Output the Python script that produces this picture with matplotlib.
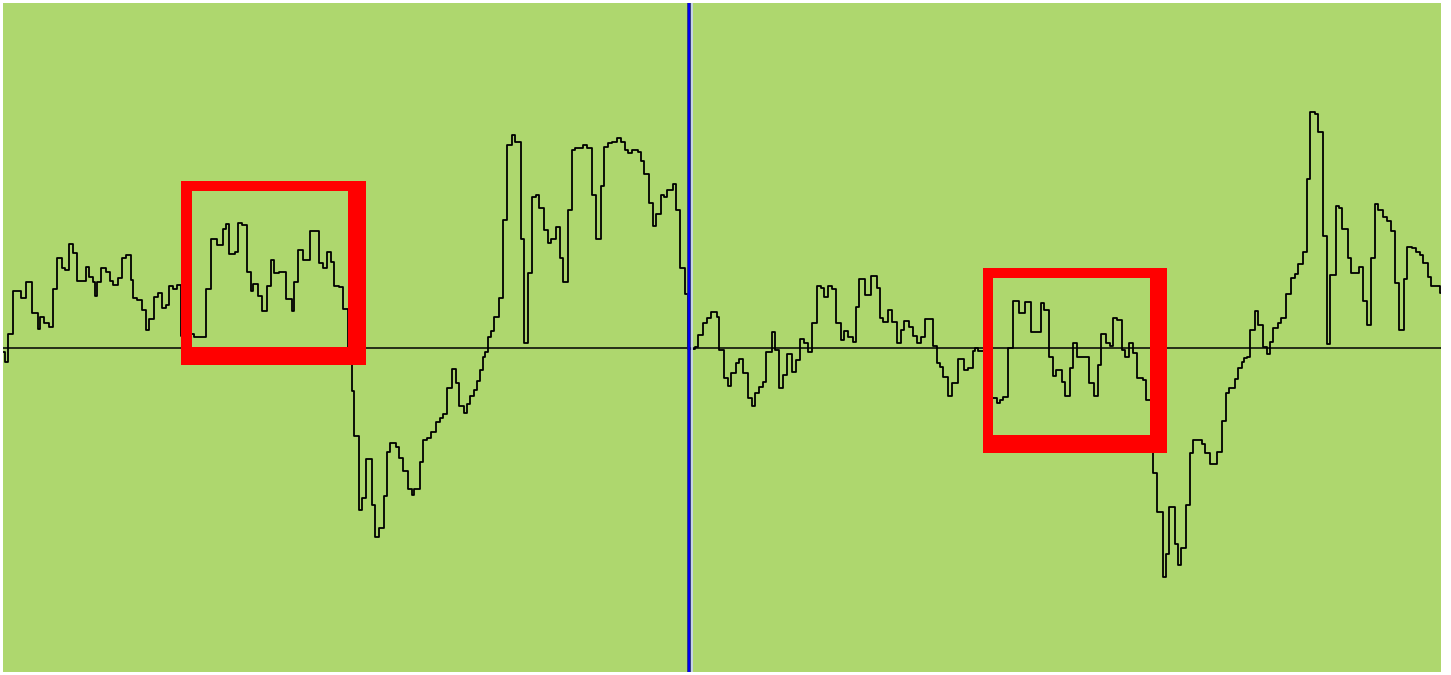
import matplotlib.pyplot as plt
from matplotlib.path import Path
from matplotlib.patches import PathPatch

# -----------------------------
# Data: step signal (start time of each step, level of that step)
# -----------------------------
t_start = [
    3, 5, 8, 13, 21, 26, 32, 38, 40, 44, 49, 53, 57, 62, 65, 69, 73, 77, 86, 89,
    93, 95, 97, 101, 106, 110, 113, 118, 122, 126, 131, 133, 137, 142, 146, 149, 154, 158, 162, 166,
    169, 173, 177, 181, 191, 194, 206, 211, 217, 223, 226, 229, 235, 238, 242, 247, 251, 253, 258, 262,
    267, 271, 274, 279, 286, 292, 294, 298, 303, 310, 319, 323, 327, 331, 334, 339, 343, 348, 352, 354,
    359, 362, 366, 372, 375, 379, 384, 387, 390, 396, 399, 403, 408, 412, 414, 420, 423, 427, 431, 436,
    440, 443, 447, 452, 456, 459, 464, 467, 470, 474, 477, 480, 483, 485, 488, 491, 494, 499, 503, 507,
    512, 515, 521, 524, 528, 532, 536, 539, 544, 548, 551, 556, 560, 563, 568, 572, 575, 583, 587, 592,
    596, 601, 604, 608, 612, 617, 621, 625, 628, 632, 638, 641, 644, 649, 653, 656, 661, 664, 667, 673,
    676, 680, 685, 688, 695, 698, 703, 707, 711, 717, 719, 724, 728, 731, 736, 739, 743, 748, 752, 755,
    759, 763, 766, 772, 775, 779, 783, 787, 792, 796, 800, 804, 808, 812, 817, 821, 824, 828, 832, 836,
    841, 844, 848, 853, 856, 859, 865, 871, 877, 880, 883, 888, 892, 897, 901, 904, 909, 913, 917, 921,
    925, 933, 937, 940, 943, 948, 952, 958, 964, 968, 973, 975, 978, 990, 997, 1000, 1003, 1008, 1013, 1019,
    1025, 1031, 1041, 1044, 1049, 1053, 1056, 1062, 1065, 1070, 1073, 1077, 1089, 1094, 1098, 1101, 1106, 1110, 1113, 1117,
    1122, 1125, 1129, 1133, 1137, 1143, 1146, 1153, 1157, 1163, 1166, 1169, 1175, 1178, 1181, 1186, 1190, 1193, 1202, 1205,
    1210, 1217, 1222, 1226, 1229, 1235, 1238, 1242, 1244, 1247, 1250, 1255, 1258, 1263, 1267, 1270, 1273, 1278, 1281, 1286,
    1291, 1295, 1298, 1303, 1307, 1310, 1315, 1318, 1323, 1327, 1330, 1336, 1339, 1342, 1348, 1351, 1359, 1363, 1367, 1371,
    1375, 1378, 1383, 1387, 1391, 1395, 1399, 1404, 1407, 1412, 1416, 1420, 1423, 1428, 1431, 1440,
]
t_end = 1441

level = [
    -4, -14, 14, 57, 50, 66, 35, 19, 31, 25, 21, 59, 90, 80, 78, 104, 95, 67, 81, 71,
    66, 52, 66, 80, 76, 67, 63, 70, 90, 93, 68, 50, 48, 38, 18, 29, 51, 55, 40, 43,
    62, 59, 63, 12, 14, 11, 59, 109, 103, 119, 124, 94, 96, 125, 123, 76, 57, 64, 52, 37,
    62, 88, 75, 76, 49, 37, 66, 98, 88, 117, 85, 80, 96, 86, 62, 61, 39, -14, -43, -88,
    -162, -150, -111, -157, -189, -180, -148, -104, -95, -99, -110, -123, -141, -147, -141, -114, -92, -90, -84, -74,
    -70, -66, -40, -21, -35, -58, -65, -56, -48, -42, -33, -22, -9, -4, 11, 17, 31, 50, 128, 203,
    213, 206, 109, 5, 75, 151, 153, 140, 118, 105, 109, 121, 90, 66, 138, 198, 200, 203, 200, 153,
    109, 162, 201, 205, 206, 210, 206, 198, 195, 198, 196, 187, 174, 145, 122, 134, 153, 151, 158, 164,
    138, 80, 54, -1, 1, 13, 25, 30, 36, 31, -2, -30, -38, -25, -15, -11, -25, -50, -58, -45,
    -39, -34, -4, 16, -2, -40, -27, -6, -24, -12, 9, 5, -4, 25, 62, 60, 51, 62, 59, 25,
    8, 17, 11, 6, 41, 69, 53, 72, 60, 30, 26, 38, 26, 5, 18, 27, 21, 12, 5, 11,
    29, 2, -15, -19, -29, -48, -35, -11, -22, -20, -3, 0, -3, -50, -55, -52, -49, 0, 47, 35,
    46, 16, 45, 38, -9, -28, -22, -34, -48, -20, 5, -9, -35, -48, -17, 14, 5, 2, 30, 28,
    -2, -9, 5, -5, -30, -32, -52, -125, -164, -229, -206, -159, -196, -217, -200, -157, -105, -92, -96, -105,
    -116, -104, -73, -45, -40, -31, -20, -14, -10, -9, 18, 37, 23, 1, -6, 6, 20, 25, 30, 54,
    70, 74, 84, 96, 169, 236, 234, 216, 112, 4, 73, 142, 140, 119, 90, 75, 81, 47, 23, 90,
    144, 138, 131, 127, 117, 65, 18, 69, 101, 100, 96, 93, 85, 71, 62, 55,
]

marker_time = 689

# highlight boxes: (outer left, outer right, outer bottom, outer top,
#                   inner left, inner right, inner bottom, inner top)
boxes = [
    (181, 366, -17, 167, 192, 348, 1, 157),
    (983, 1167, -105, 80, 993, 1150, -87, 70),
]

# -----------------------------
# Chart
# -----------------------------
fig = plt.figure(figsize=(14.51, 6.75), dpi=100)
ax = fig.add_axes([3 / 1451, 3 / 675, 1438 / 1451, 669 / 675])
ax.set_facecolor("#aed76e")

# baseline
ax.axhline(0, color="black", lw=1.1, zorder=2)

# signal
ax.step(t_start + [t_end], level + [level[-1]], where="post",
        color="black", lw=1.3, zorder=3)

# red highlight frames
for ol, orr, ob, ot, il, ir, ib, it in boxes:
    verts = [(ol, ob), (orr, ob), (orr, ot), (ol, ot), (ol, ob),
             (il, ib), (il, it), (ir, it), (ir, ib), (il, ib)]
    codes = [Path.MOVETO, Path.LINETO, Path.LINETO, Path.LINETO, Path.CLOSEPOLY] * 2
    ax.add_patch(PathPatch(Path(verts, codes), facecolor="#ff0000",
                           edgecolor="none", zorder=4))

# cursor line
ax.axvline(marker_time + 2.5, color="#c8d2f2", lw=1.3, zorder=5)
ax.axvline(marker_time, color="#1a1a8c", lw=2.6, zorder=6)
ax.axvline(marker_time + 0.3, color="#0000f0", lw=1.4, zorder=7)

ax.set_xlim(3, t_end)
ax.set_ylim(-324, 345)
ax.set_xticks([])
ax.set_yticks([])
for s in ax.spines.values():
    s.set_visible(False)

plt.savefig("out.png", dpi=100)
plt.close()
